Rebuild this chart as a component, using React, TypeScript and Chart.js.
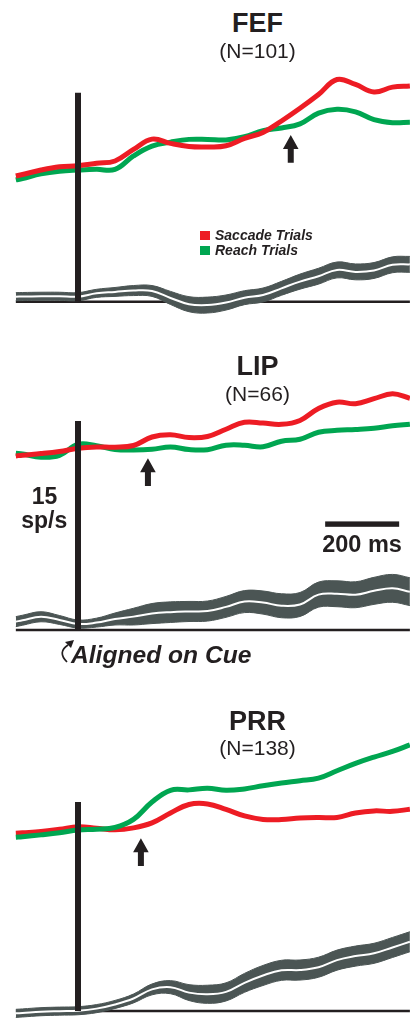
import React, { useEffect, useRef } from "react";
import { Chart, registerables } from "chart.js";

Chart.register(...registerables);

// ---------- DATA ----------
// time from cue onset (ms)
const TIMES_MS = [-168, -150, -100, -50, 0, 50, 100, 150, 200, 250, 300, 350, 400, 450, 500, 550, 600, 650, 700, 750, 800, 850, 897];

// firing rate (sp/s, offset above each panel's zero line)
const FEF_SACCADE = [9.02, 9.13, 9.45, 9.68, 9.76, 9.93, 10.1, 10.93, 11.67, 11.36, 11.14, 11.11, 11.19, 11.72, 12.15, 12.97, 13.88, 14.87, 15.95, 15.59, 15.05, 15.4, 15.48];
const FEF_REACH = [8.74, 8.84, 9.18, 9.37, 9.45, 9.5, 9.49, 10.46, 11.16, 11.45, 11.65, 11.65, 11.61, 11.84, 12.28, 12.47, 12.76, 13.53, 13.81, 13.63, 13.07, 12.85, 12.88];
const FEF_DIFF = [0.36, 0.37, 0.39, 0.39, 0.36, 0.6, 0.7, 0.8, 0.77, 0.27, -0.18, -0.24, -0.06, 0.29, 0.48, 0.96, 1.44, 1.83, 2.28, 2.14, 2.24, 2.65, 2.68];
const FEF_SEM = [0.29, 0.29, 0.29, 0.29, 0.29, 0.29, 0.32, 0.36, 0.39, 0.47, 0.54, 0.57, 0.54, 0.5, 0.5, 0.5, 0.54, 0.57, 0.57, 0.57, 0.57, 0.57, 0.57];

const LIP_SACCADE = [12.49, 12.55, 12.66, 12.81, 13.04, 13.14, 13.12, 13.24, 13.85, 14.01, 13.81, 13.89, 14.41, 14.91, 14.85, 14.76, 15.04, 15.9, 16.35, 16.24, 16.6, 16.95, 16.63];
const LIP_REACH = [12.68, 12.63, 12.4, 12.53, 13.32, 13.22, 12.96, 12.92, 12.97, 13.14, 12.95, 12.94, 13.26, 13.26, 13.15, 13.55, 13.69, 14.19, 14.33, 14.39, 14.48, 14.66, 14.77];
const LIP_DIFF = [0.6, 0.7, 0.95, 0.72, 0.43, 0.53, 0.79, 0.96, 1.18, 1.28, 1.33, 1.36, 1.66, 2.04, 1.97, 1.74, 1.83, 2.54, 2.6, 2.53, 2.81, 2.99, 2.75];
const LIP_SEM = [0.36, 0.36, 0.36, 0.32, 0.29, 0.32, 0.43, 0.6, 0.72, 0.74, 0.72, 0.72, 0.75, 0.79, 0.83, 0.86, 0.86, 0.9, 0.93, 0.93, 0.97, 1.0, 1.0];

const PRR_SACCADE = [12.76, 12.79, 12.88, 13.04, 13.23, 13.12, 13.0, 13.14, 13.5, 14.21, 14.82, 14.86, 14.47, 14.0, 13.75, 13.74, 13.85, 13.89, 13.89, 14.21, 14.36, 14.33, 14.48];
const PRR_REACH = [12.47, 12.51, 12.64, 12.79, 12.99, 13.04, 13.17, 13.75, 15.0, 15.84, 15.87, 15.98, 15.84, 15.94, 16.17, 16.37, 16.53, 16.71, 17.24, 17.77, 18.22, 18.63, 19.1];
const PRR_DIFF = [-0.17, -0.14, -0.05, -0.01, 0.02, 0.17, 0.47, 0.9, 1.55, 1.71, 1.32, 1.2, 1.37, 2.02, 2.55, 2.92, 2.94, 3.14, 3.65, 3.94, 4.14, 4.56, 4.97];
const PRR_SEM = [0.29, 0.29, 0.29, 0.29, 0.29, 0.29, 0.29, 0.32, 0.39, 0.47, 0.57, 0.65, 0.65, 0.68, 0.72, 0.72, 0.72, 0.72, 0.72, 0.72, 0.72, 0.72, 0.72];

const PANEL_TITLES = ["FEF", "LIP", "PRR"];
const PANEL_COUNTS = [101, 66, 138];
const LEGEND_LABELS = ["Saccade Trials", "Reach Trials"];
const ARROW_TIMES_MS = [575, 189, 170];
const ARROW_TIP_VALUES = [11.97, 12.33, 12.4];
const ARROW_LENGTH = 2.0; // sp/s
const CUE_BAR_HEIGHT = 15; // sp/s
const SCALE_BAR_MS = 200;
const SCALE_BAR_START_MS = 668;
const SCALE_BAR_VALUE = 7.6;
const SCALE_LABEL_Y = "15";
const SCALE_LABEL_Y_UNIT = "sp/s";
const SCALE_LABEL_X = "200 ms";
const CUE_LABEL = "Aligned on Cue";

const PANELS = [
  { saccade: FEF_SACCADE, reach: FEF_REACH, diff: FEF_DIFF, sem: FEF_SEM },
  { saccade: LIP_SACCADE, reach: LIP_REACH, diff: LIP_DIFF, sem: LIP_SEM },
  { saccade: PRR_SACCADE, reach: PRR_REACH, diff: PRR_DIFF, sem: PRR_SEM },
];

// ---------- LAYOUT / STYLE ----------
const PAGE_W = 410;
const PX_PER_MS = 0.37;
const CUE_PX = 78;
const PX_PER_UNIT = 209 / 15;
const PANEL_BOXES = [
  { top: 60, height: 270, base: 301.7 },
  { top: 380, height: 300, base: 630 },
  { top: 730, height: 289, base: 1011 },
];
const RED = "#ed1c24";
const GREEN = "#00a651";
const GRAY = "#4b5554";
const INK = "#231f20";
const FONT = "'Liberation Sans', Arial, Helvetica, sans-serif";

function Panel({ index }: { index: number }) {
  const ref = useRef<HTMLCanvasElement | null>(null);
  const box = PANEL_BOXES[index];

  useEffect(() => {
    const p = PANELS[index];
    const pts = (vals: number[]) => TIMES_MS.map((t, i) => ({ x: t, y: vals[i] }));
    const redOnTop = index !== 2;
    const last = TIMES_MS.length - 1;

    const decor = {
      id: "decor" + index,
      afterDatasetsDraw(chart: any) {
        const ctx = chart.ctx;
        const xs = chart.scales.x;
        const ys = chart.scales.y;
        ctx.save();
        ctx.fillStyle = INK;
        ctx.strokeStyle = INK;
        // arrow marking divergence
        const ax = xs.getPixelForValue(ARROW_TIMES_MS[index]);
        const tipY = ys.getPixelForValue(ARROW_TIP_VALUES[index]);
        const tailY = ys.getPixelForValue(ARROW_TIP_VALUES[index] - ARROW_LENGTH);
        const headH = 14;
        const headW = 7.8;
        const shaftW = 3;
        ctx.beginPath();
        ctx.moveTo(ax, tipY);
        ctx.lineTo(ax + headW, tipY + headH);
        ctx.lineTo(ax + shaftW, tipY + headH);
        ctx.lineTo(ax + shaftW, tailY);
        ctx.lineTo(ax - shaftW, tailY);
        ctx.lineTo(ax - shaftW, tipY + headH);
        ctx.lineTo(ax - headW, tipY + headH);
        ctx.closePath();
        ctx.fill();

        if (index === 1) {
          // time scale bar
          const x0 = xs.getPixelForValue(SCALE_BAR_START_MS);
          const x1 = xs.getPixelForValue(SCALE_BAR_START_MS + SCALE_BAR_MS);
          const sy = ys.getPixelForValue(SCALE_BAR_VALUE);
          ctx.fillRect(x0, sy - 2.7, x1 - x0, 5.4);
          // curved pointer to the cue
          const cx = xs.getPixelForValue(0);
          const by = ys.getPixelForValue(0);
          ctx.lineWidth = 1.7;
          ctx.beginPath();
          ctx.moveTo(cx - 11, by + 32);
          ctx.quadraticCurveTo(cx - 21, by + 22, cx - 10, by + 15);
          ctx.stroke();
          ctx.beginPath();
          ctx.moveTo(cx - 4, by + 10);
          ctx.lineTo(cx - 13, by + 12);
          ctx.lineTo(cx - 7, by + 18);
          ctx.closePath();
          ctx.fill();
        }
        ctx.restore();
      },
    };

    const datasets: any[] = [
      { label: "cue", data: [{ x: 0, y: 0 }, { x: 0, y: CUE_BAR_HEIGHT }], borderColor: INK, borderWidth: 6, tension: 0, order: 0 },
      { label: LEGEND_LABELS[0], data: pts(p.saccade), borderColor: RED, borderWidth: 5, order: redOnTop ? 1 : 2 },
      { label: LEGEND_LABELS[1], data: pts(p.reach), borderColor: GREEN, borderWidth: 5, order: redOnTop ? 2 : 1 },
      { label: "difference", data: pts(p.diff), borderColor: "#ffffff", borderWidth: 2, order: 3 },
      {
        label: "upper",
        data: TIMES_MS.map((t, i) => ({ x: t, y: p.diff[i] + p.sem[i] })),
        borderColor: GRAY,
        backgroundColor: GRAY,
        borderWidth: 1,
        fill: "+1",
        order: 4,
      },
      {
        label: "lower",
        data: TIMES_MS.map((t, i) => ({ x: t, y: p.diff[i] - p.sem[i] })),
        borderColor: GRAY,
        borderWidth: 1,
        fill: false,
        order: 5,
      },
      { label: "zero", data: [{ x: TIMES_MS[0], y: 0 }, { x: TIMES_MS[last], y: 0 }], borderColor: INK, borderWidth: 2.5, tension: 0, order: 6 },
    ];

    const chart = new Chart(ref.current as HTMLCanvasElement, {
      type: "line",
      data: { datasets },
      options: {
        animation: false,
        responsive: false,
        maintainAspectRatio: false,
        devicePixelRatio: 1,
        events: [],
        layout: { padding: 0 },
        elements: {
          point: { radius: 0 },
          line: { tension: 0.4, borderCapStyle: "butt", borderJoinStyle: "round" },
        },
        scales: {
          x: {
            type: "linear",
            display: false,
            min: -CUE_PX / PX_PER_MS,
            max: (PAGE_W - CUE_PX) / PX_PER_MS,
          },
          y: {
            type: "linear",
            display: false,
            min: -(box.top + box.height - box.base) / PX_PER_UNIT,
            max: (box.base - box.top) / PX_PER_UNIT,
          },
        },
        plugins: {
          legend: { display: false },
          tooltip: { enabled: false },
          title: { display: false },
        },
      } as any,
      plugins: [decor],
    });
    return () => chart.destroy();
  }, [index]);

  return (
    <canvas
      ref={ref}
      width={PAGE_W}
      height={box.height}
      style={{ position: "absolute", left: 0, top: box.top, width: PAGE_W, height: box.height, display: "block" }}
    />
  );
}

function Label(props: {
  text: string;
  x: number;
  top: number;
  size: number;
  bold?: boolean;
  italic?: boolean;
  center?: boolean;
}) {
  return (
    <div
      style={{
        position: "absolute",
        left: props.x,
        top: props.top,
        transform: props.center ? "translateX(-50%)" : undefined,
        fontFamily: FONT,
        fontSize: props.size,
        lineHeight: 1,
        fontWeight: props.bold ? 700 : 400,
        fontStyle: props.italic ? "italic" : "normal",
        color: INK,
        whiteSpace: "nowrap",
      }}
    >
      {props.text}
    </div>
  );
}

const TITLE_TOPS = [10.4, 353.1, 707.8];
const COUNT_TOPS = [40.2, 382.7, 736.7];

export default function App() {
  useEffect(() => {
    document.body.style.margin = "0";
  }, []);
  return (
    <div style={{ position: "absolute", left: 0, top: 0, width: PAGE_W, height: 1019, background: "#ffffff", overflow: "hidden" }}>
      {PANEL_TITLES.map((_, i) => (
        <Panel key={"p" + i} index={i} />
      ))}
      {PANEL_TITLES.map((t, i) => (
        <Label key={"t" + i} text={t} x={257.5} top={TITLE_TOPS[i]} size={27} bold center />
      ))}
      {PANEL_COUNTS.map((n, i) => (
        <Label key={"n" + i} text={"(N=" + n + ")"} x={257.5} top={COUNT_TOPS[i]} size={21} center />
      ))}
      <div style={{ position: "absolute", left: 200, top: 231, width: 9.5, height: 9, background: RED }} />
      <div style={{ position: "absolute", left: 200, top: 246, width: 9.5, height: 9, background: GREEN }} />
      <Label text={LEGEND_LABELS[0]} x={215} top={228.1} size={14} bold italic />
      <Label text={LEGEND_LABELS[1]} x={215} top={243.1} size={14} bold italic />
      <Label text={SCALE_LABEL_Y} x={44.5} top={484.5} size={23} bold center />
      <Label text={SCALE_LABEL_Y_UNIT} x={44.3} top={508.8} size={23} bold center />
      <Label text={SCALE_LABEL_X} x={362} top={532.8} size={23.5} bold center />
      <Label text={CUE_LABEL} x={71} top={643.3} size={24.6} bold italic />
    </div>
  );
}
